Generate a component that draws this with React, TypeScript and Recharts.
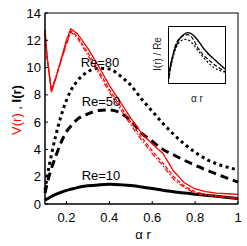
import React from 'react';
import { LineChart, Line, XAxis, YAxis } from 'recharts';

const xs = [0.1, 0.11, 0.13, 0.15, 0.2, 0.22, 0.25, 0.3, 0.35, 0.4, 0.45, 0.5, 0.55, 0.6, 0.65, 0.7, 0.75, 0.8, 0.85, 0.9, 0.95, 1.0];
const re80 = [1.0, 2.0, 3.6, 5.0, 7.6, 8.3, 9.0, 9.7, 9.95, 9.9, 9.4, 8.7, 7.7, 6.8, 5.9, 5.1, 4.4, 3.8, 3.3, 2.95, 2.7, 2.5];
const re50 = [0.8, 1.5, 2.6, 3.5, 5.3, 5.7, 6.2, 6.6, 6.85, 6.9, 6.7, 6.1, 5.2, 4.6, 4.0, 3.6, 3.2, 2.85, 2.5, 2.2, 1.9, 1.6];
const re10 = [0.3, 0.38, 0.55, 0.7, 1.0, 1.08, 1.2, 1.33, 1.4, 1.44, 1.42, 1.35, 1.25, 1.13, 1.0, 0.9, 0.8, 0.72, 0.64, 0.56, 0.48, 0.4];
const vSolid = [12.8, 10.8, 8.2, 9.2, 12.0, 12.85, 12.5, 11.4, 10.1, 8.7, 7.5, 6.3, 5.2, 4.4, 3.7, 2.4, 1.55, 1.1, 0.9, 0.8, 0.75, 0.7];
const vDash = [12.6, 10.7, 8.3, 9.2, 11.8, 12.7, 12.3, 11.1, 9.8, 8.4, 7.2, 6.0, 4.9, 3.9, 3.0, 2.0, 1.3, 0.9, 0.7, 0.6, 0.5, 0.45];
const vDashDot = [12.5, 10.6, 8.4, 9.3, 11.7, 12.6, 12.2, 10.9, 9.6, 8.2, 7.0, 5.8, 4.7, 3.7, 2.8, 1.8, 1.2, 0.8, 0.65, 0.55, 0.45, 0.4];

const xTicks = [0.2, 0.4, 0.6, 0.8, 1];
const yTicks = [0, 2, 4, 6, 8, 10, 12, 14];

const data = xs.map((x, i) => ({
  x,
  re80: re80[i],
  re50: re50[i],
  re10: re10[i],
  vSolid: vSolid[i],
  vDash: vDash[i],
  vDashDot: vDashDot[i],
}));

// inset: I(r) divided by Re
const insetData = xs.map((x, i) => ({
  x,
  a: re10[i] / 10,
  b: re50[i] / 50,
  c: re80[i] / 80,
}));

const font = 'Liberation Sans, Arial, sans-serif';

const BottomTick = (props: any) => {
  const { x, y, payload } = props;
  return (
    <g>
      <line x1={x} y1={y} x2={x} y2={y - 3} stroke="#000" />
      <text x={x} y={y + 18} textAnchor="middle" fontSize={13} fontFamily={font} fill="#000">
        {String(payload.value)}
      </text>
    </g>
  );
};

const TopTick = (props: any) => {
  const { x, y } = props;
  return <line x1={x} y1={y} x2={x} y2={y + 3} stroke="#000" />;
};

const LeftTick = (props: any) => {
  const { x, y, payload } = props;
  return (
    <g>
      <line x1={x} y1={y} x2={x + 3} y2={y} stroke="#000" />
      <text x={x - 4} y={y + 4.5} textAnchor="end" fontSize={13} fontFamily={font} fill="#000">
        {String(payload.value)}
      </text>
    </g>
  );
};

const RightTick = (props: any) => {
  const { x, y } = props;
  return <line x1={x} y1={y} x2={x - 3} y2={y} stroke="#000" />;
};

export default function App() {
  return (
    <div style={{ position: 'absolute', left: 0, top: 0, width: 247, height: 246, background: '#fff' }}>
      <LineChart width={247} height={246} data={data} margin={{ top: 13, right: 9, bottom: 0, left: 0 }}>
        <XAxis dataKey="x" type="number" domain={[0.1, 1]} ticks={xTicks} height={42}
          tickSize={0} tickMargin={0} tick={BottomTick} stroke="#000" />
        <XAxis xAxisId="top" dataKey="x" type="number" domain={[0.1, 1]} ticks={xTicks} orientation="top" height={0}
          tickSize={0} tickMargin={0} tick={TopTick} stroke="#000" />
        <YAxis domain={[0, 14]} ticks={yTicks} width={45} tickSize={0} tickMargin={0} tick={LeftTick} stroke="#000" />
        <YAxis yAxisId="right" orientation="right" domain={[0, 14]} ticks={yTicks} width={0}
          tickSize={0} tickMargin={0} tick={RightTick} stroke="#000" />
        <Line type="monotone" dataKey="re80" stroke="#000" strokeWidth={3} strokeDasharray="3 3.5" dot={false} isAnimationActive={false} />
        <Line type="monotone" dataKey="re50" stroke="#000" strokeWidth={3} strokeDasharray="8 5" dot={false} isAnimationActive={false} />
        <Line type="monotone" dataKey="re10" stroke="#000" strokeWidth={3} dot={false} isAnimationActive={false} />
        <Line type="linear" dataKey="vDashDot" stroke="#ff0000" strokeWidth={1.2} strokeDasharray="5 2 1.5 2" dot={false} isAnimationActive={false} />
        <Line type="linear" dataKey="vDash" stroke="#ff0000" strokeWidth={1.2} strokeDasharray="4 2" dot={false} isAnimationActive={false} />
        <Line type="linear" dataKey="vSolid" stroke="#ff0000" strokeWidth={1.3} dot={false} isAnimationActive={false} />
      </LineChart>

      <div style={{ position: 'absolute', left: 168, top: 26, width: 58, height: 58, border: '1px solid #000', boxSizing: 'border-box', background: '#fff' }}>
        <LineChart width={56} height={56} data={insetData} margin={{ top: 0, right: 0, bottom: 0, left: 0 }}>
          <XAxis dataKey="x" type="number" domain={[0.1, 1]} hide />
          <YAxis domain={[0, 0.16]} hide />
          <Line type="monotone" dataKey="c" stroke="#000" strokeWidth={1.2} strokeDasharray="2 2" dot={false} isAnimationActive={false} />
          <Line type="monotone" dataKey="b" stroke="#000" strokeWidth={1.2} strokeDasharray="4 2" dot={false} isAnimationActive={false} />
          <Line type="monotone" dataKey="a" stroke="#000" strokeWidth={1.4} dot={false} isAnimationActive={false} />
        </LineChart>
      </div>

      <svg width={247} height={246} style={{ position: 'absolute', left: 0, top: 0, pointerEvents: 'none' }}>
        <rect x={45} y={13} width={193} height={191} fill="none" stroke="#000" strokeWidth={1} />
        <text x={21} y={110} transform="rotate(-90 21 110)" textAnchor="middle" fontSize={13} fontFamily={font}>
          <tspan fill="#ff0000">V(r)</tspan>
          <tspan fill="#000"> , </tspan>
          <tspan fill="#000" fontWeight="bold">I(r)</tspan>
        </text>
        <text x={100} y={67} textAnchor="middle" fontSize={13} fontFamily={font} fill="#000">Re=80</text>
        <text x={101} y={106} textAnchor="middle" fontSize={13} fontFamily={font} fill="#000">Re=50</text>
        <text x={101} y={180} textAnchor="middle" fontSize={13} fontFamily={font} fill="#000">Re=10</text>
        <text x={143} y={239} textAnchor="middle" fontSize={13} fontFamily={font} fill="#000">α r</text>
        <text x={161} y={54} transform="rotate(-90 161 54)" textAnchor="middle" fontSize={10} fontFamily={font} fill="#222">I(r) / Re</text>
        <text x={197} y={102} textAnchor="middle" fontSize={10} fontFamily={font} fill="#222">α r</text>
      </svg>
    </div>
  );
}
